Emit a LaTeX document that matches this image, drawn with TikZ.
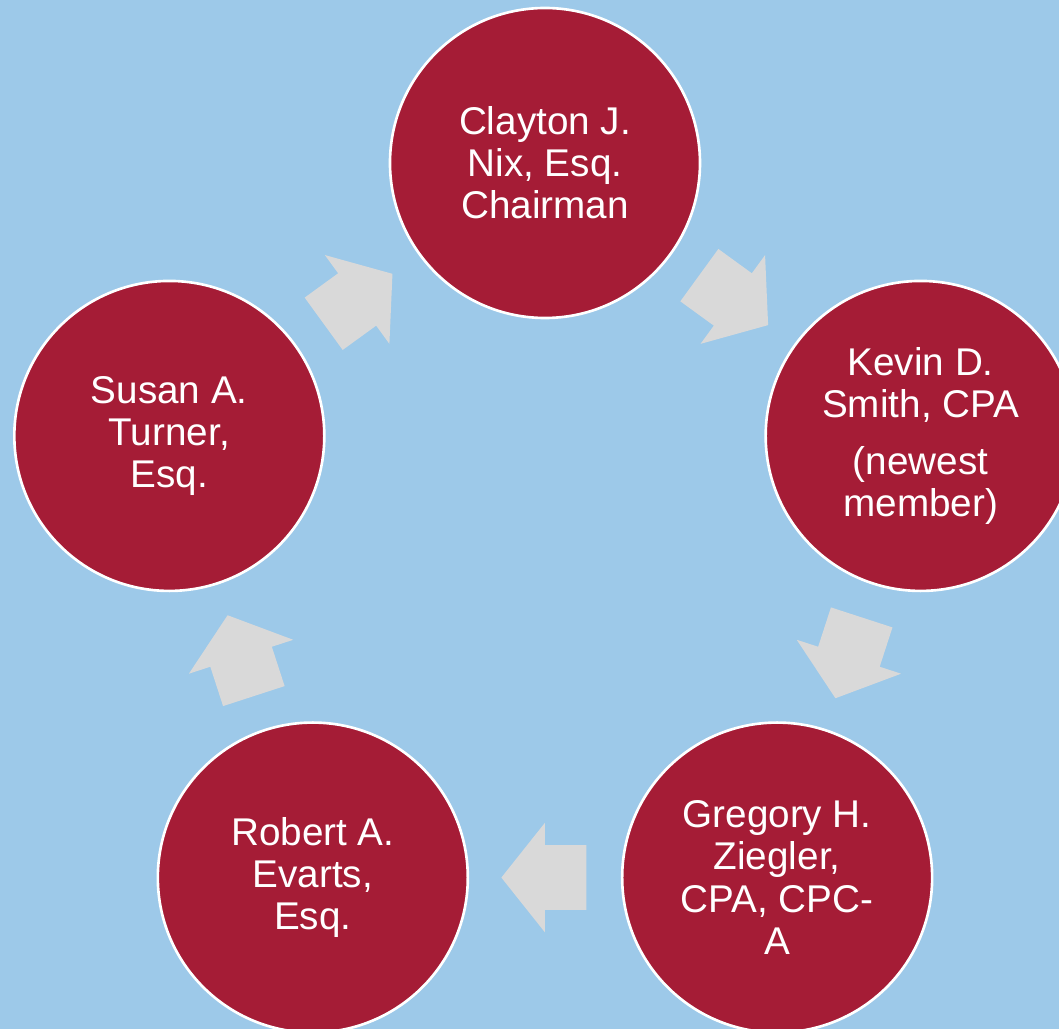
\documentclass[tikz,border=0pt]{standalone}
\usepackage{fontspec}
\setmainfont{Liberation Sans}
\usepackage{tikz}
\usetikzlibrary{shapes.arrows}
\definecolor{skyback}{HTML}{9DC9E9}
\definecolor{boardred}{HTML}{A51C36}
\definecolor{arrowgray}{HTML}{D9D9D9}
\tikzset{
    member/.style={circle, fill=boardred, draw=white, line width=1.5pt, minimum size=6.2cm, inner sep=0pt, text=white, align=center, font=\fontsize{22}{24}\selectfont},
    cyclearrow/.style={single arrow, fill=arrowgray, draw=none, inner xsep=0pt, inner ysep=0.64cm, minimum height=1.7cm, single arrow head extend=0.45cm, single arrow tip angle=103, sloped, allow upside down, anchor=tail, pos=0.225}
}

\begin{document}
\begin{tikzpicture}
\useasboundingbox[fill=skyback] (-10.9,-9.42) rectangle (10.28,11.16);
\clip (-10.9,-9.42) rectangle (10.28,11.16);

\node[member] (nix) at (90:7.9) {Clayton J.\\Nix, Esq.\\Chairman};
\node[member] (smith) at (18:7.9) {Kevin D.\\Smith, CPA\\[0.28cm](newest\\member)};
\node[member] (ziegler) at (-54:7.9) {Gregory H.\\Ziegler,\\CPA, CPC-\\A};
\node[member] (evarts) at (-126:7.9) {Robert A.\\Evarts,\\Esq.};
\node[member] (turner) at (162:7.9) {Susan A.\\Turner,\\Esq.};

% arrows round the cycle
\path (nix) -- node[cyclearrow] {} (smith);
\path (smith) -- node[cyclearrow] {} (ziegler);
\path (ziegler) -- node[cyclearrow] {} (evarts);
\path (evarts) -- node[cyclearrow] {} (turner);
\path (turner) -- node[cyclearrow] {} (nix);

\end{tikzpicture}
\end{document}
